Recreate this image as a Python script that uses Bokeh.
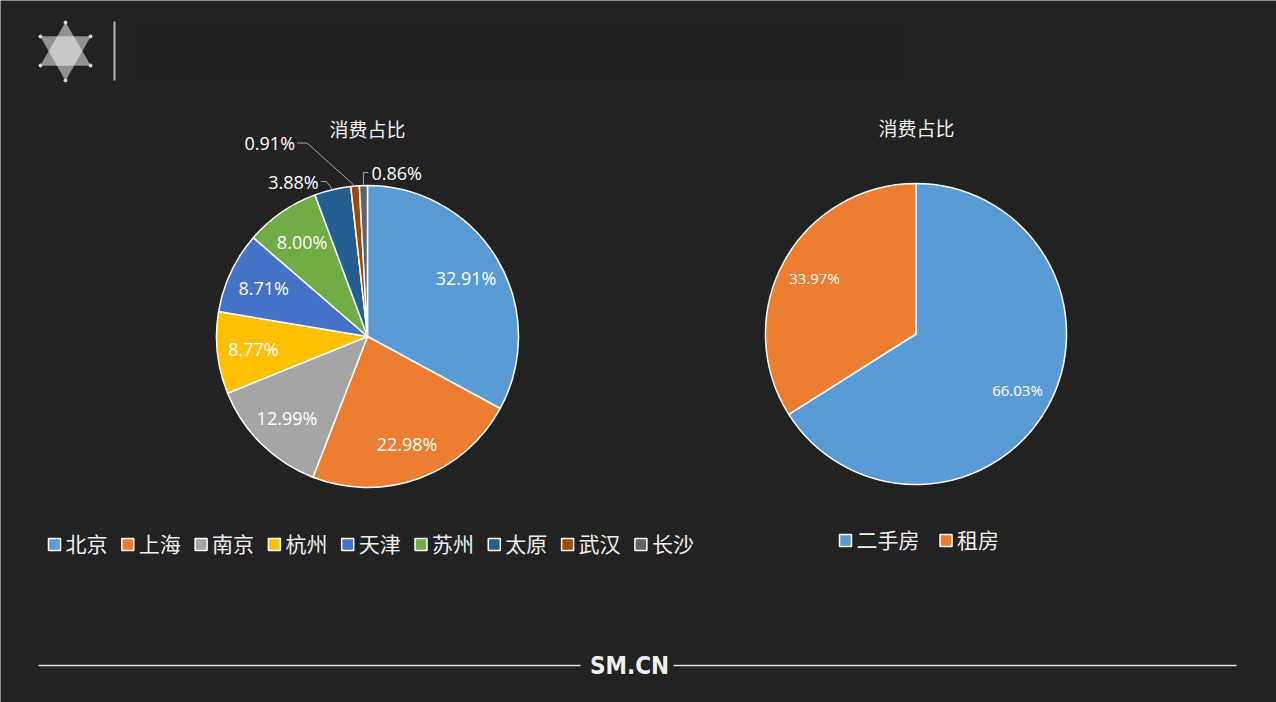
import numpy as np
from bokeh.plotting import figure
from bokeh.models import Range1d, ColumnDataSource
from bokeh.core.properties import value
from bokeh.embed import file_html
from bokeh.resources import INLINE

# ---------------- data ----------------
chart_title = "消费占比"
cities = ["北京", "上海", "南京", "杭州", "天津", "苏州", "太原", "武汉", "长沙"]
city_share = [32.91, 22.98, 12.99, 8.77, 8.71, 8.00, 3.88, 0.91, 0.86]
city_colors = ["#5B9BD5", "#ED7D31", "#A5A5A5", "#FFC000", "#4472C4",
               "#70AD47", "#255E91", "#9E480E", "#636363"]
housing = ["二手房", "租房"]
housing_share = [66.03, 33.97]
housing_colors = ["#5B9BD5", "#ED7D31"]
footer_text = "SM.CN"

# ---------------- layout helpers (reference pixel -> data) ----------------
W, H = 1276, 702
def X(px):
    return px
def Y(py):
    return H - py

CJK = value("Noto Sans CJK SC")
NUM = value("Open Sans")
BG = "#222222"

p = figure(width=W, height=H, x_range=Range1d(0, W), y_range=Range1d(0, H),
           output_backend="svg", toolbar_location=None,
           x_axis_location=None, y_axis_location=None, min_border=0)
p.background_fill_color = BG
p.border_fill_color = BG
p.outline_line_color = None
p.grid.visible = False

# ---------------- header decoration ----------------
p.quad(left=[X(135)], right=[X(905)], bottom=[Y(78)], top=[Y(22)],
       fill_color="black", fill_alpha=0.06, line_color=None)
p.patch([X(65), X(40), X(90)], [Y(22), Y(65), Y(65)],
        fill_color="white", fill_alpha=0.5, line_color="#dddddd", line_alpha=0.4, line_width=0.5)
p.patch([X(40), X(90), X(65)], [Y(36), Y(36), Y(80)],
        fill_color="white", fill_alpha=0.5, line_color="#dddddd", line_alpha=0.4, line_width=0.5)
p.scatter([X(65), X(40), X(90), X(40), X(90), X(65)],
          [Y(22), Y(36), Y(36), Y(65), Y(65), Y(80)],
          size=3, color="#dddddd")
p.segment(x0=[X(114)], y0=[Y(21)], x1=[X(114)], y1=[Y(80)],
          line_color="#b5b5b5", line_width=2)


def draw_pie(cx, cy, r, vals, colors, frac, fsize, min_inside):
    vals = np.array(vals, dtype=float)
    cum = np.concatenate([[0.0], np.cumsum(vals)]) / vals.sum()
    start = np.pi / 2 - 2 * np.pi * cum[:-1]
    end = np.pi / 2 - 2 * np.pi * cum[1:]
    n = len(vals)
    src = ColumnDataSource(dict(x=[cx] * n, y=[cy] * n, start=start, end=end, color=colors))
    p.wedge(x="x", y="y", radius=r, start_angle="start", end_angle="end",
            direction="clock", fill_color="color", line_color="white",
            line_width=1.5, source=src)
    mid = (start + end) / 2
    inside = vals >= min_inside
    lx = cx + frac * r * np.cos(mid[inside])
    ly = cy + frac * r * np.sin(mid[inside])
    labels = [f"{v:.2f}%" for v in vals[inside]]
    p.text(x=lx, y=ly, text=labels, text_color="white", text_font=NUM,
           text_font_size=f"{fsize}px", text_align="center", text_baseline="middle")
    return mid


# ---------------- left pie ----------------
lcx, lcy, lr = X(367), Y(336), 151
mid = draw_pie(lcx, lcy, lr, city_share, city_colors, 0.76, 18, 5)

# outside labels with leader lines: (index, elbow dx, elbow dy, tail, align)
outside = [(6, -6, 8, -6, "right"), (7, -48, 43, -10, "right"), (8, 0, 13, 5, "left")]
for i, dx, dy, tail, align in outside:
    ex = lcx + lr * np.cos(mid[i])
    ey = lcy + lr * np.sin(mid[i])
    bx, by = ex + dx, ey + dy
    tx = bx + tail
    p.line([ex, bx, tx], [ey, by, by], line_color="#a6a6a6", line_width=1)
    p.text(x=[tx + (3 if align == "left" else -2)], y=[by],
           text=[f"{city_share[i]:.2f}%"], text_color="white", text_font=NUM,
           text_font_size="18px", text_align=align, text_baseline="middle")

p.text(x=[X(367)], y=[Y(128)], text=[chart_title], text_color="#f0f0f0",
       text_font=CJK, text_font_size="19px", text_align="center", text_baseline="middle")

# left legend
lx0, lstep, ly = X(54), 73.3, Y(544)
lxs = [lx0 + i * lstep for i in range(len(cities))]
p.rect(x=lxs, y=[ly] * len(cities), width=12, height=12, fill_color=city_colors,
       line_color="white", line_width=1.5)
p.text(x=[x + 11 for x in lxs], y=[ly + 2] * len(cities), text=cities, text_color="#f0f0f0",
       text_font=CJK, text_font_size="21px", text_align="left", text_baseline="middle")

# ---------------- right pie ----------------
rcx, rcy, rr = X(915.5), Y(333.5), 150.5
draw_pie(rcx, rcy, rr, housing_share, housing_colors, 0.77, 15, 5)
p.text(x=[X(916)], y=[Y(127)], text=[chart_title], text_color="#f0f0f0",
       text_font=CJK, text_font_size="19px", text_align="center", text_baseline="middle")

rxs = [X(845), X(945.5)]
p.rect(x=rxs, y=[Y(540)] * 2, width=12, height=12, fill_color=housing_colors,
       line_color="white", line_width=1.5)
p.text(x=[x + 11 for x in rxs], y=[Y(540) + 2] * 2, text=housing, text_color="#f0f0f0",
       text_font=CJK, text_font_size="21px", text_align="left", text_baseline="middle")

# ---------------- footer ----------------
p.segment(x0=[X(38), X(673)], y0=[Y(665)] * 2, x1=[X(580), X(1236)], y1=[Y(665)] * 2,
          line_color="#e0e0e0", line_width=1.5)
p.text(x=[X(629)], y=[Y(665)], text=[footer_text], text_color="#f0f0f0",
       text_font=value("'Liberation Sans Narrow', 'DejaVu Sans Condensed', sans-serif"),
       text_font_style="bold", text_font_size="24px", text_align="center", text_baseline="middle")

open("out.html", "w").write(file_html(p, INLINE))
